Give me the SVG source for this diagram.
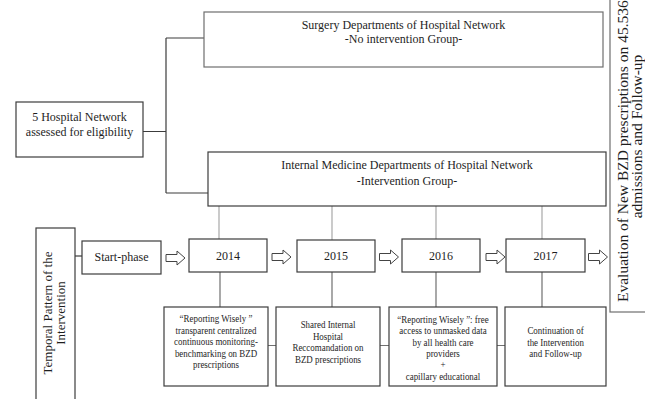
<svg xmlns="http://www.w3.org/2000/svg" width="645" height="399" viewBox="0 0 645 399">
<defs>
<style>
.box{fill:#fff;stroke:#3c3c3c;stroke-width:1.2}
.box2{fill:#fff;stroke:#6e6e6e;stroke-width:1.2}
.t{font-family:"Liberation Serif","Times New Roman",serif;fill:#1e1e1e;text-anchor:middle}
.t12{font-size:12px}
.t13{font-size:13px}
.t15{font-size:15.5px}
.ts{font-size:10.5px}
.c{fill:none;stroke:#3c3c3c;stroke-width:1.2}
.cl{fill:none;stroke:#a8a8a8;stroke-width:1.2}
.cm{fill:none;stroke:#707070;stroke-width:1.2}
.arr{fill:#fff;stroke:#444;stroke-width:1}
</style>
<path id="ba" d="M0,-3.5 H11 V-7 L19,0 L11,7 V3.5 H0 Z"/>
</defs>

<g id="connectors">
<path class="c" d="M143,131.5 H166 M166,38 V193 M166,38 H204 M166,193 H208"/>
<path class="c" d="M75,256 H82"/>
<path class="cl" d="M219,206 V239 M332,206 V240 M436,206 V239 M542,206 V239"/>
<path class="cm" d="M220,272 V307 M332,272 V307 M436,272 V307 M542,272 V307"/>
<path class="cm" d="M268,345.5 H276 M380,345.5 H389 M497,345.5 H505"/>
<use href="#ba" class="arr" x="166" y="258"/>
<use href="#ba" class="arr" x="272" y="257"/>
<use href="#ba" class="arr" x="379.5" y="257"/>
<use href="#ba" class="arr" x="486" y="257"/>
<use href="#ba" class="arr" x="588.5" y="257"/>
</g>

<g id="network">
<rect class="box" x="16" y="102" width="127" height="55"/>
<text class="t t12" x="79.5" y="121">5 Hospital Network</text>
<text class="t t12" x="79.5" y="136">assessed for eligibility</text>
</g>

<g id="surgery">
<rect class="box2" x="204" y="12" width="399" height="55"/>
<text class="t t12" x="403.5" y="28.5">Surgery Departments of Hospital Network</text>
<text class="t t12" x="403.5" y="42.5">-No intervention Group-</text>
</g>

<g id="internal">
<rect class="box" x="208" y="152" width="398" height="54"/>
<text class="t t12" x="407" y="169">Internal Medicine Departments of Hospital Network</text>
<text class="t t12" x="407" y="185">-Intervention Group-</text>
</g>

<g id="temporal">
<rect class="box" x="36" y="228" width="39" height="180"/>
<text class="t t13" transform="translate(51.5,313) rotate(-90)">Temporal Pattern of the</text>
<text class="t t13" transform="translate(65,313) rotate(-90)">Intervention</text>
</g>

<g id="start">
<rect class="box" x="82" y="241" width="79" height="33"/>
<text class="t t12" x="121.5" y="260.5">Start-phase</text>
</g>

<g id="y2014">
<rect class="box" x="189" y="239" width="78" height="33"/>
<text class="t t12" x="228" y="260">2014</text>
</g>
<g id="y2015">
<rect class="box" x="297" y="240" width="78" height="32"/>
<text class="t t12" x="336" y="260">2015</text>
</g>
<g id="y2016">
<rect class="box" x="402" y="239" width="78" height="33"/>
<text class="t t12" x="441" y="260">2016</text>
</g>
<g id="y2017">
<rect class="box" x="506" y="239" width="79" height="33"/>
<text class="t t12" x="545.5" y="260">2017</text>
</g>

<g id="evaluation">
<rect class="box2" x="610" y="-5" width="50" height="317"/>
<text class="t t15" style="text-anchor:start" transform="translate(628,302) rotate(-90)">Evaluation of New BZD prescriptions on 45.536</text>
<text class="t t15" transform="translate(642,136.5) rotate(-90)">admissions and Follow-up</text>
</g>

<g id="d2014">
<rect class="box" x="164" y="307" width="104" height="79"/>
<g transform="translate(216,0) scale(0.85,1)">
<text class="t ts" x="0" y="322.5">“Reporting Wisely ”</text>
<text class="t ts" x="0" y="334">transparent centralized</text>
<text class="t ts" x="0" y="345.5">continuous monitoring-</text>
<text class="t ts" x="0" y="357">benchmarking on BZD</text>
<text class="t ts" x="0" y="368.5">prescriptions</text>
</g>
</g>

<g id="d2015">
<rect class="box" x="276" y="307" width="104" height="79"/>
<g transform="translate(328,0) scale(0.85,1)">
<text class="t ts" x="0" y="328.5">Shared Internal</text>
<text class="t ts" x="0" y="340">Hospital</text>
<text class="t ts" x="0" y="351.5">Reccomandation on</text>
<text class="t ts" x="0" y="363">BZD prescriptions</text>
</g>
</g>

<g id="d2016">
<rect class="box" x="389" y="307" width="108" height="79"/>
<g transform="translate(443,0) scale(0.85,1)">
<text class="t ts" x="0" y="323">“Reporting Wisely ”: free</text>
<text class="t ts" x="0" y="334.3">access to unmasked data</text>
<text class="t ts" x="0" y="345.6">by all health care</text>
<text class="t ts" x="0" y="357">providers</text>
<text class="t ts" x="0" y="368.3">+</text>
<text class="t ts" x="0" y="379.6">capillary educational</text>
</g>
</g>

<g id="d2017">
<rect class="box" x="505" y="307" width="101" height="79"/>
<g transform="translate(555.5,0) scale(0.85,1)">
<text class="t ts" x="0" y="334.5">Continuation of</text>
<text class="t ts" x="0" y="346">the Intervention</text>
<text class="t ts" x="0" y="357.5">and Follow-up</text>
</g>
</g>
</svg>
